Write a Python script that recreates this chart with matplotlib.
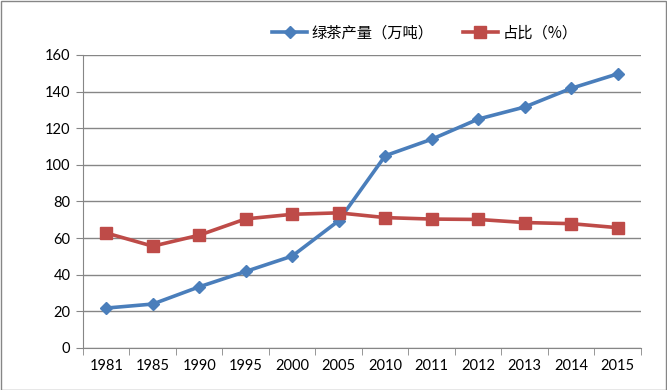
import matplotlib
matplotlib.use("Agg")
import matplotlib.pyplot as plt
import numpy as np

years = ["1981", "1985", "1990", "1995", "2000", "2005",
         "2010", "2011", "2012", "2013", "2014", "2015"]
output = [21.8, 24.0, 33.4, 41.8, 50.2, 69.5,
          105.0, 114.0, 125.0, 131.6, 141.8, 149.7]
share = [62.8, 55.6, 61.6, 70.5, 73.0, 73.8,
         71.2, 70.4, 70.2, 68.5, 67.9, 65.7]

plt.rcParams["font.family"] = ["Lato", "Noto Sans CJK SC", "DejaVu Sans"]

fig = plt.figure(figsize=(6.67, 3.9), dpi=100)
ax = fig.add_axes([0.1244, 0.1077, 0.8366, 0.7513])

x = np.arange(len(years))
blue = "#4a7ebb"
red = "#be4b48"
ax.plot(x, output, color=blue, lw=2.6, marker="D", ms=6.5,
        label="绿茶产量（万吨）", zorder=3)
ax.plot(x, share, color=red, lw=2.6, marker="s", ms=8,
        label="占比（%）", zorder=3)

ax.set_xlim(-0.5, len(years) - 0.5)
ax.set_ylim(0, 160)
ax.set_yticks(range(0, 161, 20))
ax.set_xticks(x)
ax.set_xticklabels(years)
ax.set_xticks(np.arange(-0.5, len(years), 1), minor=True)
ax.tick_params(axis="x", which="major", length=0, pad=8, labelsize=10.5)
ax.tick_params(axis="x", which="minor", length=5, color="#868686")
ax.tick_params(axis="y", length=5, color="#868686", labelsize=10.5, pad=4)
ax.grid(axis="y", color="#868686", lw=1)
ax.set_axisbelow(True)
for s in ["top", "right"]:
    ax.spines[s].set_visible(False)
for s in ["left", "bottom"]:
    ax.spines[s].set_color("#868686")

fig.legend(loc="center", bbox_to_anchor=(0.637, 0.915), ncol=2, frameon=False,
           handlelength=2.3, handletextpad=0.3, columnspacing=1.9,
           prop={"family": ["Noto Sans CJK SC", "DejaVu Sans"], "size": 11})

fig.patches.append(plt.Rectangle((0.001, 0.001), 0.997, 0.997,
                                 transform=fig.transFigure, fill=False,
                                 edgecolor="#868686", lw=1))

fig.savefig("out.png", dpi=100)
